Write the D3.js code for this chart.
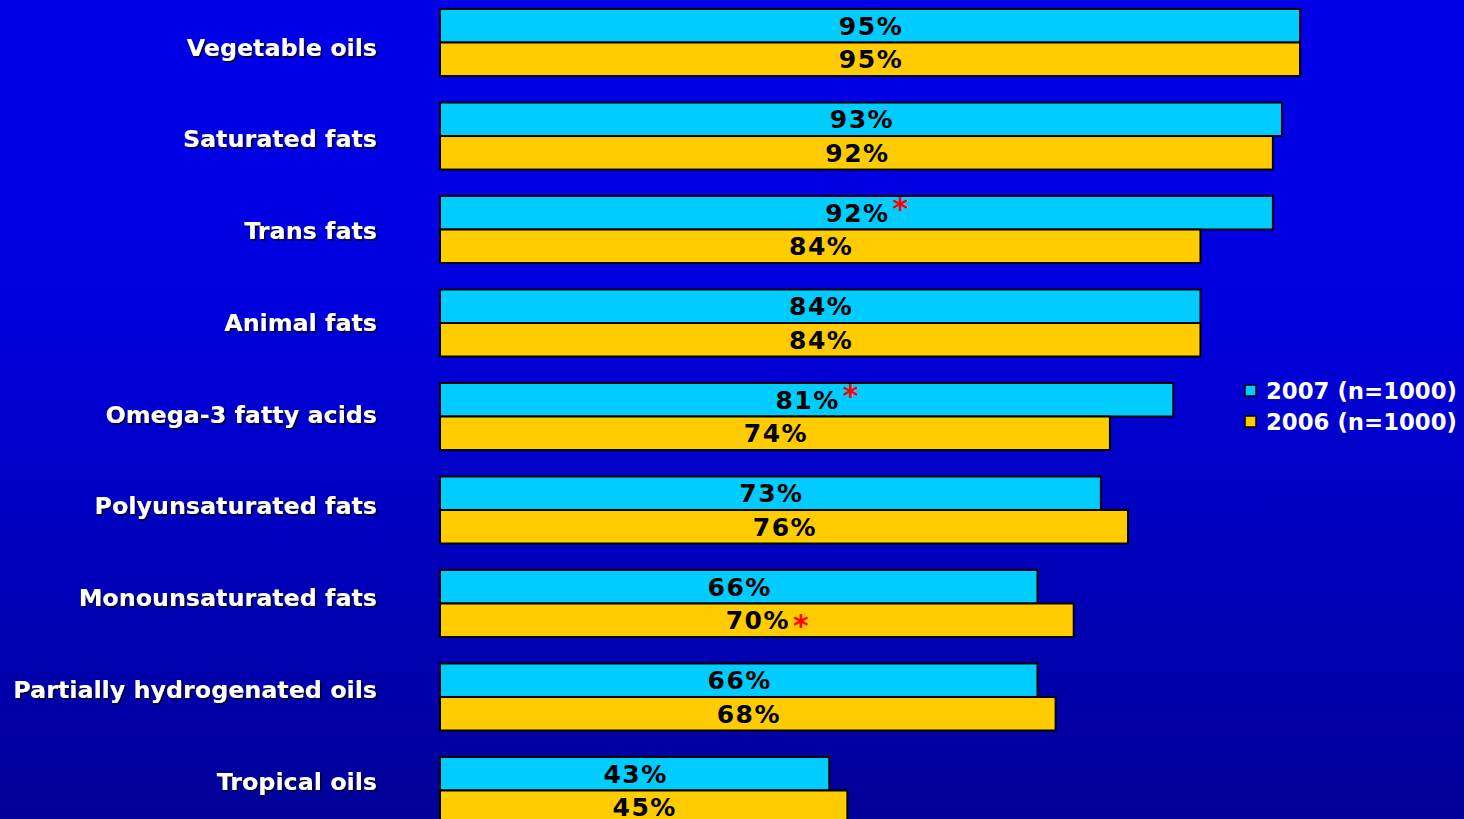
<!DOCTYPE html>
<html><head><meta charset="utf-8">
<script src="https://cdn.jsdelivr.net/npm/d3@7"></script>
<style>html,body{margin:0;padding:0;overflow:hidden;background:#0000d0}</style>
</head><body>
<script>
const categories = ["Vegetable oils","Saturated fats","Trans fats","Animal fats","Omega-3 fatty acids","Polyunsaturated fats","Monounsaturated fats","Partially hydrogenated oils","Tropical oils"];
const values2007 = [95,93,92,84,81,73,66,66,43];
const values2006 = [95,92,84,84,74,76,70,68,45];
const sig2007 = [false,false,true,false,true,false,false,false,false];
const sig2006 = [false,false,false,false,false,false,true,false,false];
const seriesNames = ["2007 (n=1000)","2006 (n=1000)"];
const colors = ["#00CCFF","#FFCC00"];

const W=1464,H=819;
const svg=d3.select("body").append("svg").attr("width",W).attr("height",H);
const defs=svg.append("defs");
const g=defs.append("linearGradient").attr("id","bg").attr("x1",0).attr("y1",0).attr("x2",0).attr("y2",1);
g.append("stop").attr("offset","0%").attr("stop-color","#0000E8");
g.append("stop").attr("offset","35%").attr("stop-color","#0000E0");
g.append("stop").attr("offset","100%").attr("stop-color","#000098");
svg.append("rect").attr("width",W).attr("height",H).attr("fill","url(#bg)");
const f=defs.append("filter").attr("id","sh").attr("x","-5%").attr("y","-20%").attr("width","110%").attr("height","150%");
f.append("feDropShadow").attr("dx",1.8).attr("dy",1.8).attr("stdDeviation",0.6).attr("flood-color","#000030").attr("flood-opacity",0.9);

const x=d3.scaleLinear().domain([0,100]).range([440,1345.3]);
const y=d3.scaleBand().domain(categories).range([9,824]).paddingInner(0.283).paddingOuter(0);
const yLab=d3.scalePoint().domain(categories).range([47,781]);
const sub=d3.scaleBand().domain([0,1]).range([0,y.bandwidth()]);
const font="'DejaVu Sans', Verdana, sans-serif";

const rows=categories.map((c,i)=>({c,i}));

// category labels
svg.append("g").attr("filter","url(#sh)").selectAll("text").data(rows).join("text")
  .attr("x",377).attr("y",d=>yLab(d.c)).attr("dy","0.36em")
  .attr("text-anchor","end").attr("fill","#fff").attr("font-family",font).attr("font-weight","bold").attr("font-size",23.8)
  .text(d=>d.c);

const grp=svg.selectAll("g.grp").data(rows).join("g").attr("class","grp").attr("transform",d=>`translate(0,${y(d.c)})`);

[values2007,values2006].forEach((vals,s)=>{
  const sig=s===0?sig2007:sig2006;
  grp.append("rect").attr("x",x(0)).attr("y",sub(s)).attr("width",d=>x(vals[d.i])-x(0)).attr("height",sub.bandwidth())
    .attr("fill",colors[s]).attr("stroke","#000").attr("stroke-width",2);
  const t=grp.append("text").attr("x",d=>(x(0)+x(vals[d.i]))/2+1).attr("y",sub(s)+sub.bandwidth()/2).attr("dy","0.36em")
    .attr("text-anchor","middle").attr("fill","#000").attr("font-family",font).attr("font-weight","bold").attr("font-size",25)
    .attr("letter-spacing",1.5)
    .text(d=>vals[d.i]+"%");
  t.each(function(d){
    if(sig[d.i]){
      const bb=this.getBBox();
      d3.select(this.parentNode).append("text").attr("x",bb.x+bb.width+3).attr("y",sub(s)+sub.bandwidth()/2+(s===0?6:16))
        .attr("fill","#FF0000").attr("font-family",font).attr("font-weight","bold").attr("font-size",30).text("*");
    }
  });
});

// legend
const lg=svg.append("g");
seriesNames.forEach((n,i)=>{
  const yy=391+i*31;
  lg.append("rect").attr("x",1245).attr("y",yy-6).attr("width",11).attr("height",11).attr("fill",colors[i]).attr("stroke","#000").attr("stroke-width",1.5);
  lg.append("text").attr("x",1266).attr("y",yy).attr("dy","0.36em").attr("fill","#fff").attr("font-family",font).attr("font-weight","bold").attr("font-size",22.8).text(n);
});
</script>
</body></html>
